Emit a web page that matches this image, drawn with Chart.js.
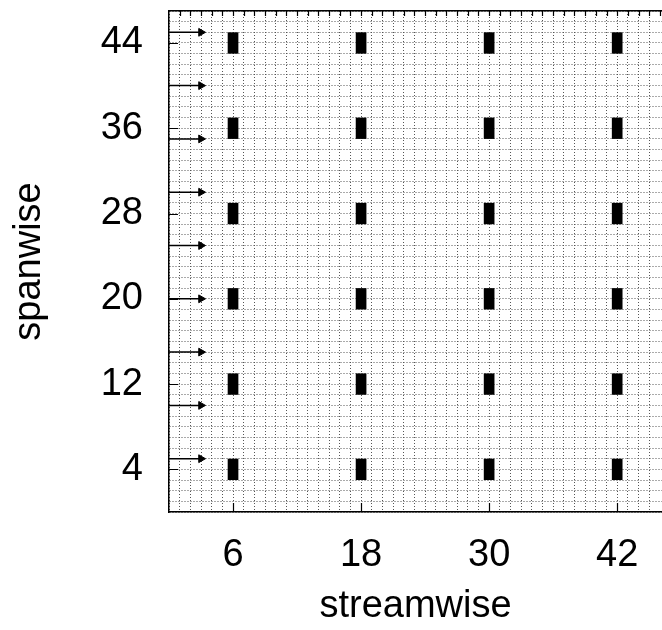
<!DOCTYPE html>
<html>
<head>
<meta charset="utf-8">
<script src="https://cdn.jsdelivr.net/npm/chart.js@4"></script>
<style>
  html, body { margin: 0; padding: 0; background: #fff; overflow: hidden; }
</style>
</head>
<body>
<canvas id="chart" width="662" height="630"></canvas>
<script>
// axis ranges and labelled ticks
const xRange = [0, 46.2];
const yRange = [0, 47];
const xTickLabels = [6, 18, 30, 42];
const yTickLabels = [4, 12, 20, 28, 36, 44];

// block centres (streamwise x spanwise)
const blockX = [6, 18, 30, 42];
const blockY = [4, 12, 20, 28, 36, 44];
const blockSize = [1, 2]; // width, height in data units

// inflow arrows along the left edge
const arrowY = [5, 10, 15, 20, 25, 30, 35, 40, 45];
const arrowX = [0, 3];

const FONT = '"Liberation Sans", Arial, Helvetica, sans-serif';

const blockPoints = [];
blockY.forEach(y => blockX.forEach(x => blockPoints.push({ x: x, y: y })));

const arrowSets = arrowY.map(y => ({
  type: 'line',
  data: arrowX.map(x => ({ x: x, y: y })),
  borderColor: '#000',
  borderWidth: 1.5,
  pointRadius: [0, 4.5],
  pointStyle: 'triangle',
  rotation: 90,
  pointBackgroundColor: '#000',
  pointBorderColor: '#000',
  pointBorderWidth: 1
}));

// keep only whole-unit grid lines, no extra edge padding
function integerTicks(scale) {
  scale.ticks = scale.ticks.filter(t => Number.isInteger(t.value));
}
function noPad(scale) {
  scale.paddingTop = scale.paddingBottom = 0;
  scale.paddingLeft = scale.paddingRight = 0;
}

// blocks and inward tick marks, placed through the scales
const marksPlugin = {
  id: 'marks',
  afterDatasetsDraw(chart) {
    const { ctx, scales: { x, y } } = chart;
    ctx.save();
    ctx.fillStyle = '#000';
    chart.data.datasets[0].data.forEach(p => {
      const l = x.getPixelForValue(p.x - blockSize[0] / 2);
      const r = x.getPixelForValue(p.x + blockSize[0] / 2);
      const t = y.getPixelForValue(p.y + blockSize[1] / 2);
      const b = y.getPixelForValue(p.y - blockSize[1] / 2);
      ctx.fillRect(l, t, r - l, b - t);
    });
    ctx.restore();
  },
  afterDraw(chart) {
    const { ctx, chartArea: a, scales: { x, y } } = chart;
    ctx.save();
    ctx.strokeStyle = '#000';
    ctx.lineWidth = 1.2;
    ctx.beginPath();
    yTickLabels.forEach(v => {
      const py = Math.round(y.getPixelForValue(v)) + 0.5;
      ctx.moveTo(a.left, py);
      ctx.lineTo(a.left + 9, py);
    });
    xTickLabels.forEach(v => {
      const px = Math.round(x.getPixelForValue(v)) + 0.5;
      ctx.moveTo(px, a.bottom);
      ctx.lineTo(px, a.bottom - 9);
    });
    for (let v = Math.ceil(xRange[0]) + 1; v <= xRange[1]; v++) {
      const px = Math.round(x.getPixelForValue(v)) + 0.5;
      ctx.moveTo(px, a.top);
      ctx.lineTo(px, a.top + 5);
    }
    ctx.stroke();
    ctx.restore();
  }
};

new Chart(document.getElementById('chart'), {
  type: 'scatter',
  data: {
    datasets: [
      { label: 'blocks', data: blockPoints, pointRadius: 0, showLine: false },
      ...arrowSets
    ]
  },
  options: {
    responsive: false,
    animation: false,
    devicePixelRatio: 1,
    layout: { padding: 0, autoPadding: false },
    plugins: { legend: { display: false }, tooltip: { enabled: false } },
    scales: {
      x: {
        type: 'linear',
        position: 'bottom',
        min: xRange[0],
        max: xRange[1],
        afterBuildTicks: integerTicks,
        afterFit: s => { s.height = 118; noPad(s); },
        ticks: {
          stepSize: 1,
          autoSkip: false,
          maxRotation: 0,
          padding: 21,
          color: '#000',
          font: { family: FONT, size: 38 },
          callback: v => xTickLabels.includes(v) ? String(v) : ''
        },
        grid: { color: '#555', lineWidth: 1, drawTicks: false },
        border: { color: '#000', width: 1.5, dash: [1, 2] },
        title: {
          display: true,
          text: 'streamwise',
          color: '#000',
          font: { family: FONT, size: 38 },
          padding: { top: 0, bottom: 1 }
        }
      },
      x2: {
        type: 'linear',
        position: 'top',
        min: xRange[0],
        max: xRange[1],
        afterFit: s => { s.height = 11; noPad(s); },
        ticks: { display: false },
        grid: { drawOnChartArea: false, drawTicks: false },
        border: { color: '#000', width: 1.5 }
      },
      y: {
        type: 'linear',
        min: yRange[0],
        max: yRange[1],
        afterBuildTicks: integerTicks,
        afterFit: s => { s.width = 169; noPad(s); },
        ticks: {
          stepSize: 1,
          autoSkip: false,
          padding: 26,
          color: '#000',
          font: { family: FONT, size: 38 },
          callback: v => yTickLabels.includes(v) ? String(v) : ''
        },
        grid: { color: '#555', lineWidth: 1, drawTicks: false },
        border: { color: '#000', width: 1.5, dash: [1, 2] },
        title: {
          display: true,
          text: 'spanwise',
          color: '#000',
          font: { family: FONT, size: 38 },
          padding: { top: 7, bottom: 0 }
        }
      }
    }
  },
  plugins: [marksPlugin]
});
</script>
</body>
</html>
